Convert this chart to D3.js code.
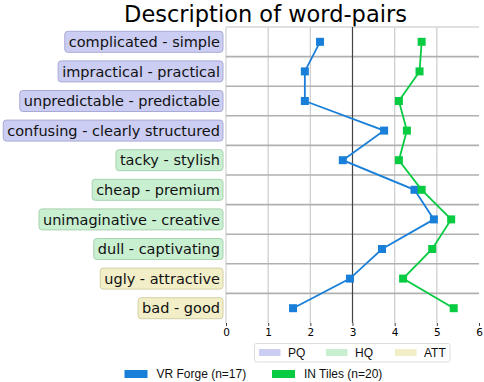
<!DOCTYPE html>
<html><head><meta charset="utf-8">
<script src="https://cdn.jsdelivr.net/npm/d3@7"></script>
<style>body{margin:0;background:#fff}svg{display:block}</style>
</head><body>
<svg id="c" width="484" height="382"></svg>
<script>
const categories = ["complicated - simple","impractical - practical","unpredictable - predictable","confusing - clearly structured","tacky - stylish","cheap - premium","unimaginative - creative","dull - captivating","ugly - attractive","bad - good"];
const groups = ["PQ","PQ","PQ","PQ","HQ","HQ","HQ","HQ","ATT","ATT"];
const vrForge = [2.23,1.87,1.87,3.75,2.77,4.47,4.93,3.70,2.94,1.59];
const inTiles = [4.64,4.59,4.10,4.29,4.10,4.64,5.34,4.89,4.20,5.40];
const xTicks = [0,1,2,3,4,5,6];
const groupNames = ["PQ","HQ","ATT"];
const seriesNames = ["VR Forge (n=17)","IN Tiles (n=20)"];

const groupFill = {PQ:"#cbcdf2", HQ:"#c9efd1", ATT:"#f1eec8"};
const groupStroke = {PQ:"#a9abd6", HQ:"#a8d3b0", ATT:"#d4d0a4"};
const seriesColor = ["#1a7fd8","#07cc42"];

const svg = d3.select("#c");
const L=226, R=479, T=27, B=323;
const x = d3.scaleLinear().domain([0,6]).range([L,R]);
const y = d3.scaleBand().domain(categories).range([T,B]);

svg.append("text").attr("x",265.5).attr("y",21.5).attr("text-anchor","middle")
  .style("font-family","DejaVu Sans").style("font-size","22.5px").attr("fill","#000")
  .text("Description of word-pairs");

const g = svg.append("g");
g.selectAll("line.v").data(xTicks.filter(d=>d!==3 && d!==0 && d!==6)).join("line")
  .attr("x1",d=>x(d)).attr("x2",d=>x(d)).attr("y1",T).attr("y2",B)
  .attr("stroke","#d0d0d0").attr("stroke-width",1.3);
g.append("line").attr("x1",L).attr("x2",R).attr("y1",T).attr("y2",T).attr("stroke","#d6d6d6").attr("stroke-width",1.3);
g.append("line").attr("x1",L).attr("x2",L).attr("y1",T).attr("y2",B).attr("stroke","#d6d6d6").attr("stroke-width",1.3);
g.selectAll("line.h").data(categories.slice(1)).join("line")
  .attr("x1",L).attr("x2",R).attr("y1",d=>y(d)).attr("y2",d=>y(d))
  .attr("stroke","#b0b0b0").attr("stroke-width",1.6);
g.append("line").attr("x1",x(3)).attr("x2",x(3)).attr("y1",T).attr("y2",B).attr("stroke","#444").attr("stroke-width",1.2);

const ax = svg.append("g").attr("transform",`translate(0,${B})`)
  .call(d3.axisBottom(x).tickValues(xTicks).tickFormat(d3.format("d")).tickSize(3).tickPadding(3));
ax.select(".domain").remove();
ax.selectAll(".tick line").attr("stroke","#444");
ax.selectAll("text").style("font-family","DejaVu Sans").style("font-size","10.5px").attr("fill","#000");

const lab = svg.append("g");
categories.forEach((c,i)=>{
  const cy = y(c)+y.bandwidth()/2;
  const t = lab.append("text").attr("x",220).attr("y",cy).attr("dy","0.36em")
    .attr("text-anchor","end").style("font-family","DejaVu Sans").style("font-size","14.5px")
    .attr("fill","#111").text(c);
  const w = t.node().getComputedTextLength();
  lab.insert("rect","text").attr("x",220-w-4).attr("y",cy-10.5).attr("width",w+7).attr("height",21)
    .attr("rx",3).attr("fill",groupFill[groups[i]]).attr("stroke",groupStroke[groups[i]]).attr("stroke-width",1);
});

[vrForge,inTiles].forEach((vals,si)=>{
  const pts = vals.map((v,i)=>[x(v), y(categories[i])+y.bandwidth()/2]);
  svg.append("path").attr("d",d3.line()(pts)).attr("fill","none")
    .attr("stroke",seriesColor[si]).attr("stroke-width",1.8);
  svg.append("g").selectAll("rect").data(pts).join("rect")
    .attr("x",d=>d[0]-4).attr("y",d=>d[1]-4).attr("width",8).attr("height",8)
    .attr("fill",seriesColor[si]);
});

const lg = svg.append("g");
lg.append("rect").attr("x",254.5).attr("y",343.5).attr("width",195.5).attr("height",18.5).attr("rx",2)
  .attr("fill","#fff").attr("stroke","#ddd");
const gx = [259,326,395];
groupNames.forEach((n,i)=>{
  lg.append("rect").attr("x",gx[i]).attr("y",349).attr("width",21.5).attr("height",7).attr("fill",groupFill[n]);
  lg.append("text").attr("x",gx[i]+29).attr("y",352.5).attr("dy","0.36em")
    .style("font-family","Liberation Sans, Arial").style("font-size","12px").attr("fill","#111").text(n);
});
const sx = [124.5,272];
seriesNames.forEach((n,i)=>{
  lg.append("rect").attr("x",sx[i]).attr("y",370).attr("width",23).attr("height",8).attr("fill",seriesColor[i]);
  lg.append("text").attr("x",sx[i]+32).attr("y",374).attr("dy","0.36em")
    .style("font-family","Liberation Sans, Arial").style("font-size","12px").attr("fill","#111").text(n);
});
</script>
</body></html>
